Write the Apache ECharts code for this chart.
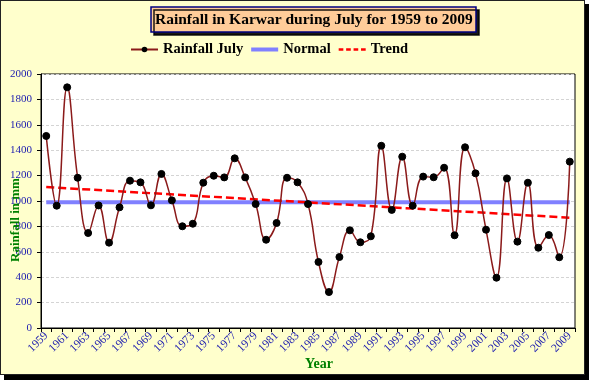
<!DOCTYPE html>
<html>
<head>
<meta charset="utf-8">
<script src="https://cdn.jsdelivr.net/npm/echarts@6/dist/echarts.min.js"></script>
<style>
  html, body { margin: 0; padding: 0; background: #fff; }
  #wrap { position: relative; width: 589px; height: 380px; overflow: hidden; }
  #shadow { position: absolute; left: 4px; top: 4px; width: 585px; height: 376px; background: #000; }
  #panel { position: absolute; left: 0; top: 0; width: 585px; height: 375px; box-sizing: border-box;
           background: #FFFFCC; border: 1px solid #222; }
  #chart { position: absolute; left: 0; top: 0; width: 589px; height: 380px; }
</style>
</head>
<body>
<div id="wrap">
  <div id="shadow"></div>
  <div id="panel"></div>
  <div id="chart"></div>
</div>
<script>
const years = ['1959','1960','1961','1962','1963','1964','1965','1966','1967','1968',
  '1969','1970','1971','1972','1973','1974','1975','1976','1977','1978',
  '1979','1980','1981','1982','1983','1984','1985','1986','1987','1988',
  '1989','1990','1991','1992','1993','1994','1995','1996','1997','1998',
  '1999','2000','2001','2002','2003','2004','2005','2006','2007','2008','2009'];

const rainfallJuly = [1512, 963, 1895, 1183, 748, 965, 672, 950, 1160, 1147,
  966, 1213, 1005, 801, 821, 1144, 1199, 1186, 1336, 1186,
  976, 695, 827, 1183, 1147, 976, 520, 283, 559, 769,
  675, 722, 1435, 930, 1349, 963, 1192, 1187, 1262, 730,
  1423, 1218, 774, 396, 1178, 680, 1144, 632, 732, 557, 1310];

const normalValue = 990;
const trendEnds = [1110, 868];

const yTicks = { min: 0, max: 2000, interval: 200 };

const FONT = '"Liberation Serif", "Times New Roman", serif';
const chart = echarts.init(document.getElementById('chart'), null, { renderer: 'canvas' });

const first = years[0], last = years[years.length - 1];

chart.setOption({
  backgroundColor: 'transparent',
  animation: false,
  title: {
    text: 'Rainfall in Karwar during July for 1959 to 2009',
    left: 151, top: 7,
    padding: [5, 3, 4, 4],
    backgroundColor: '#FFCC99',
    borderColor: '#000080',
    borderWidth: 1.5,
    shadowColor: 'rgba(0,0,0,0.9)',
    shadowOffsetX: 3, shadowOffsetY: 3, shadowBlur: 0,
    textStyle: { fontFamily: FONT, fontWeight: 'bold', fontSize: 15.5, color: '#000' }
  },
  legend: {
    left: 130, top: 42, padding: 0,
    itemWidth: 27, itemHeight: 7, itemGap: 8,
    textStyle: { fontFamily: FONT, fontWeight: 'bold', fontSize: 14.5, color: '#000' },
    data: [
      { name: 'Rainfall July' },
      { name: 'Normal', icon: 'path://M0,0h27v4h-27z' },
      { name: 'Trend', icon: 'path://M0,0h5v2.5h-5z M8,0h5v2.5h-5z M16,0h5v2.5h-5z M24,0h5v2.5h-5z' }
    ]
  },
  grid: {
    left: 41, right: 14, top: 74, bottom: 52,
    show: true, backgroundColor: '#fff', borderColor: '#000', borderWidth: 1
  },
  xAxis: {
    type: 'category',
    data: years,
    boundaryGap: true,
    name: 'Year',
    nameLocation: 'middle',
    nameGap: 29,
    nameMoveOverlap: false,
    nameTextStyle: { fontFamily: FONT, fontWeight: 'bold', fontSize: 14, color: '#008000', padding: [0, 0, 0, 22] },
    axisLine: { lineStyle: { color: '#000', width: 1 } },
    axisTick: { show: true, interval: 0, length: 4, lineStyle: { color: '#000' } },
    axisLabel: { interval: 1, rotate: 45, margin: 6, fontFamily: FONT, fontSize: 11.5, color: '#2020B0' },
    splitLine: { show: false }
  },
  yAxis: {
    type: 'value',
    min: yTicks.min, max: yTicks.max, interval: yTicks.interval,
    axisLine: { show: true, lineStyle: { color: '#000', width: 1 } },
    axisTick: { show: true, length: 4, lineStyle: { color: '#000' } },
    axisLabel: { margin: 9, fontFamily: FONT, fontSize: 11, color: '#2020B0', formatter: v => String(v) },
    splitLine: { show: true, lineStyle: { color: '#d4d4d4', type: [3, 2], width: 1 } }
  },
  graphic: [{
    type: 'text',
    x: 16, y: 220,
    rotation: Math.PI / 2,
    style: {
      text: 'Rainfall in mm',
      fill: '#008000',
      font: 'bold 13px ' + FONT,
      textAlign: 'center',
      textVerticalAlign: 'middle'
    },
    z: 100
  }],
  series: [
    {
      name: 'Normal',
      type: 'line',
      data: [[first, normalValue], [last, normalValue]],
      symbol: 'none',
      lineStyle: { color: '#8080FF', width: 4 },
      itemStyle: { color: '#8080FF' },
      z: 2
    },
    {
      name: 'Trend',
      type: 'line',
      data: [[first, trendEnds[0]], [last, trendEnds[1]]],
      symbol: 'none',
      lineStyle: { color: '#FF0000', width: 2.5, type: [8, 4] },
      itemStyle: { color: '#FF0000' },
      z: 3
    },
    {
      name: 'Rainfall July',
      type: 'line',
      data: rainfallJuly,
      smooth: 0.45,
      symbol: 'circle',
      symbolSize: 7,
      showSymbol: true,
      showAllSymbol: true,
      lineStyle: { color: '#8B1A1A', width: 1.5 },
      itemStyle: { color: '#000', borderColor: '#000' },
      z: 4
    }
  ]
});
</script>
</body>
</html>
